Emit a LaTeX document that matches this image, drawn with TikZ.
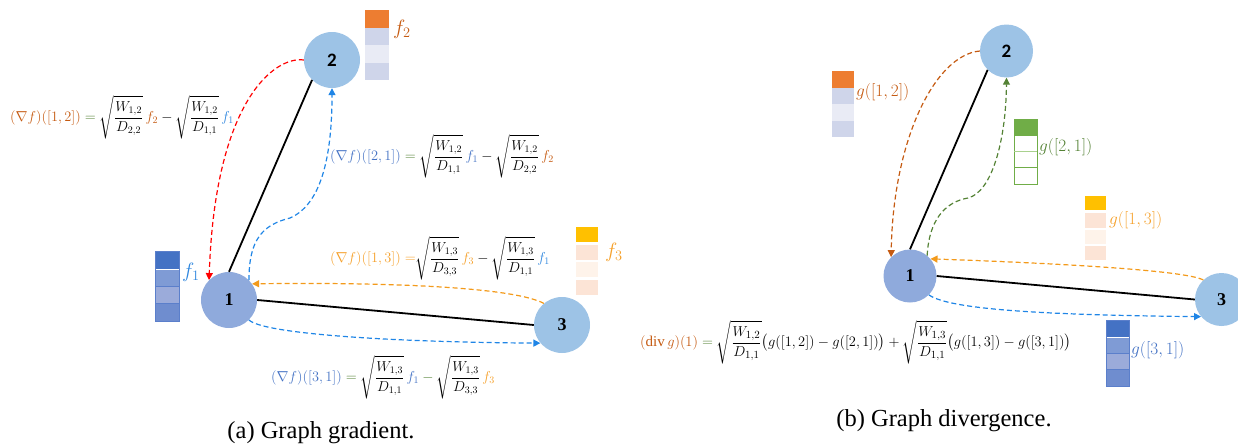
\documentclass[tikz,border=0pt]{standalone}
\usepackage{amsmath}
\usepackage{fontspec}
\setmainfont{Liberation Serif}
\newfontfamily\numsans{Carlito}
\usetikzlibrary{arrows.meta}

\definecolor{cBrown}{HTML}{C55A11}
\definecolor{cGreen}{HTML}{548235}
\definecolor{cGreenL}{HTML}{70AD47}
\definecolor{cGreenS}{HTML}{A9D18E}
\definecolor{cBlueA}{HTML}{4472C4}
\definecolor{cBlueF}{HTML}{2E86DE}
\definecolor{cBlueArr}{HTML}{1F85E6}
\definecolor{cOrange}{HTML}{F5A02A}
\definecolor{cOrangeArr}{HTML}{F39A1A}
\definecolor{cRed}{HTML}{FF0000}
\definecolor{cNodeA}{HTML}{8FAADC}
\definecolor{cNodeB}{HTML}{9DC3E6}
\definecolor{cOrBar}{HTML}{ED7D31}
\definecolor{cLav}{HTML}{CFD5EA}
\definecolor{cLavL}{HTML}{E9EBF5}
\definecolor{cGold}{HTML}{FFC000}
\definecolor{cPeach}{HTML}{FCE4D6}
\definecolor{cPeachL}{HTML}{FEF3EA}
\definecolor{cB2}{HTML}{7F9BD5}
\definecolor{cB3}{HTML}{9BABDA}
\definecolor{cB4}{HTML}{6F8DCF}
\definecolor{cBEdge}{HTML}{5B7FCB}

\tikzset{
  vtx/.style={circle, inner sep=0pt, minimum size=56},
  vtxs/.style={circle, inner sep=0pt, minimum size=53},
  vnum/.style={font=\fontsize{18}{18}\selectfont\bfseries},
  vnumsans/.style={font=\fontsize{19}{19}\selectfont\numsans\bfseries},
  edge/.style={line width=1.8pt, black},
  flow/.style={line width=1.2pt, dash pattern=on 5pt off 3pt,
               -{Triangle[length=7pt,width=7pt]}},
  fml/.style={anchor=west, inner sep=0pt, font=\fontsize{14.5}{17}\selectfont},
  fmlr/.style={anchor=west, inner sep=0pt, font=\fontsize{15}{17}\selectfont},
  lbl/.style={inner sep=0pt, font=\fontsize{21}{23}\selectfont},
  glbl/.style={anchor=west, inner sep=0pt, font=\fontsize{19}{21}\selectfont},
  captext/.style={inner sep=0pt, font=\fontsize{24.5}{27}\selectfont},
  blueedge/.style={draw=cBEdge, line width=0.8pt}
}

\newcommand{\gre}{\mathrel{\color{cGreen}=}}

\begin{document}
\begin{tikzpicture}[x=1pt, y=-1pt]
\useasboundingbox (0,0) rectangle (1238,447);

% ---------- (a) graph gradient ----------
% vectors on the vertices
\fill[cBlueA] (155,251) rectangle (179,268.5);
\fill[cB2] (155,268.5) rectangle (179,286);
\fill[cB3] (155,286) rectangle (179,303.5);
\fill[cB4] (155,303.5) rectangle (179,321);
\draw[blueedge] (155,251) rectangle (179,321);
\draw[cBEdge, line width=0.4pt] (155,286) -- (179,286) (155,303.5) -- (179,303.5);
\draw[white, line width=1.2pt] (155.5,269.2) -- (178.5,269.2);

\fill[cOrBar] (365,10) rectangle (389,27.5);
\fill[cLav] (365,27.5) rectangle (389,45);
\fill[cLavL] (365,45) rectangle (389,62.5);
\fill[cLav] (365,62.5) rectangle (389,80);

\fill[cGold] (576,227) rectangle (598,242);
\fill[cPeach] (576,245) rectangle (598,260);
\fill[cPeachL] (576,262) rectangle (598,277);
\fill[cPeach] (576,280) rectangle (598,295);

\node[lbl, text=cBlueF] (lf1) at (191,272) {$f_1$};
\node[lbl, text=cBrown] (lf2) at (402,29) {$f_2$};
\node[lbl, text=cOrange] (lf3) at (614,252) {$f_3$};

% vertices
\node[vtx, fill=cNodeA, vnum] (a1) at (229,300) {1};
\node[vtx, fill=cNodeB, vnumsans] (a2) at (332,60) {2};
\node[vtx, fill=cNodeB, vnum] (a3) at (562,325) {3};

% graph edges
\draw[edge] (a1.north) -- (a2.225);
\draw[edge] (a1.east) -- (a3.west);

% gradient flows
\draw[flow, cRed] (a2.west) .. controls (275,56) and (215,100) .. (a1.135);
\draw[flow, cBlueArr] (a1.45) .. controls (249,240) and (262,225) .. (290,218)
   .. controls (320,205) and (332,160) .. (a2.south);
\draw[flow, cOrangeArr] (a3.130) .. controls (515,288) and (400,282) .. (a1.35);
\draw[flow, cBlueArr] (a1.-45) .. controls (262,333) and (380,342) .. (a3.220);

% formulas
\node[fml] (e12) at (10,117) {$\displaystyle
  \textcolor{cBrown}{(\nabla f)([1,2])} \gre
  \sqrt{\frac{W_{1,2}}{D_{2,2}}}\,\textcolor{cBrown}{f_2}
  - \sqrt{\frac{W_{1,2}}{D_{1,1}}}\,\textcolor{cBlueF}{f_1}$};
\node[fml] (e21) at (330,156) {$\displaystyle
  \textcolor{cBlueA}{(\nabla f)([2,1])} \gre
  \sqrt{\frac{W_{1,2}}{D_{1,1}}}\,\textcolor{cBlueA}{f_1}
  - \sqrt{\frac{W_{1,2}}{D_{2,2}}}\,\textcolor{cBrown}{f_2}$};
\node[fml] (e13) at (330,258) {$\displaystyle
  \textcolor{cOrange}{(\nabla f)([1,3]) =}
  \sqrt{\frac{W_{1,3}}{D_{3,3}}}\,\textcolor{cOrange}{f_3}
  - \sqrt{\frac{W_{1,3}}{D_{1,1}}}\,\textcolor{cBlueF}{f_1}$};
\node[fml] (e31) at (271,377) {$\displaystyle
  \textcolor{cBlueA}{(\nabla f)([3,1])} \gre
  \sqrt{\frac{W_{1,3}}{D_{1,1}}}\,\textcolor{cBlueA}{f_1}
  \mathbin{\color{cGreen}-} \sqrt{\frac{W_{1,3}}{D_{3,3}}}\,\textcolor{cOrange}{f_3}$};

\node[captext] (capa) at (321,433) {(a) Graph gradient.};

% ---------- (b) graph divergence ----------
\fill[cOrBar] (832,71) rectangle (854,87.5);
\fill[cLav] (832,87.5) rectangle (854,104);
\fill[cLavL] (832,104) rectangle (854,120.5);
\fill[cLav] (832,120.5) rectangle (854,137);

\fill[cGreenL] (1014,119) rectangle (1037,135.25);
\draw[cGreenL, line width=0.9pt] (1014,119) rectangle (1037,184);
\draw[cGreenL, line width=0.9pt] (1014,135.25) -- (1037,135.25) (1014,167.75) -- (1037,167.75);
\draw[cGreenS, line width=0.9pt] (1014,151.5) -- (1037,151.5);

\fill[cGold] (1085,196) rectangle (1106,209.5);
\fill[cPeach] (1085,213) rectangle (1106,228);
\fill[cPeachL] (1085,229.5) rectangle (1106,244);
\fill[cPeach] (1085,245.5) rectangle (1106,260);

\fill[cBlueA] (1106,320) rectangle (1129,336.5);
\fill[cB2] (1106,336.5) rectangle (1129,353);
\fill[cB3] (1106,353) rectangle (1129,369.5);
\fill[cB4] (1106,369.5) rectangle (1129,386);
\draw[blueedge] (1106,320) rectangle (1129,386);
\draw[cBEdge, line width=0.4pt] (1106,353) -- (1129,353) (1106,369.5) -- (1129,369.5);
\draw[white, line width=1.2pt] (1106.5,337.2) -- (1128.5,337.2);

\node[glbl, text=cBrown] (lg12) at (856,92) {$g([1,2])$};
\node[glbl, text=cGreen] (lg21) at (1039,147) {$g([2,1])$};
\node[glbl, text=cOrange] (lg13) at (1109,220) {$g([1,3])$};
\node[glbl, text=cBlueA] (lg31) at (1131,350) {$g([3,1])$};

% vertices
\node[vtxs, fill=cNodeA, vnum] (b1) at (910,276) {1};
\node[vtxs, fill=cNodeB, vnumsans] (b2) at (1006.5,51) {2};
\node[vtxs, fill=cNodeB, vnum] (b3) at (1221.5,299.5) {3};

% graph edges
\draw[edge] (b1.north) -- (b2.225);
\draw[edge] (b1.east) -- (b3.west);

% divergence flows
\draw[flow, cBrown] (b2.west) .. controls (935,55) and (893,140) .. (b1.135);
\draw[flow, cGreen] (b1.50) .. controls (929,220) and (945,202) .. (968,198)
   .. controls (992,192) and (1006,140) .. (b2.south);
\draw[flow, cOrangeArr] (b3.133) .. controls (1185,270) and (1050,263) .. (b1.40);
\draw[flow, cBlueArr] (b1.-45) .. controls (950,310) and (1050,315) .. (b3.220);

% formula
\node[fmlr] (ediv) at (640,342) {$\displaystyle
  \textcolor{cBrown}{(\mathrm{div}\,g)(1)} \gre
  \sqrt{\frac{W_{1,2}}{D_{1,1}}}\bigl(g([1,2]) - g([2,1])\bigr)
  + \sqrt{\frac{W_{1,3}}{D_{1,1}}}\bigl(g([1,3]) - g([3,1])\bigr)$};

\node[captext] (capb) at (944,421) {(b) Graph divergence.};
\end{tikzpicture}
\end{document}
